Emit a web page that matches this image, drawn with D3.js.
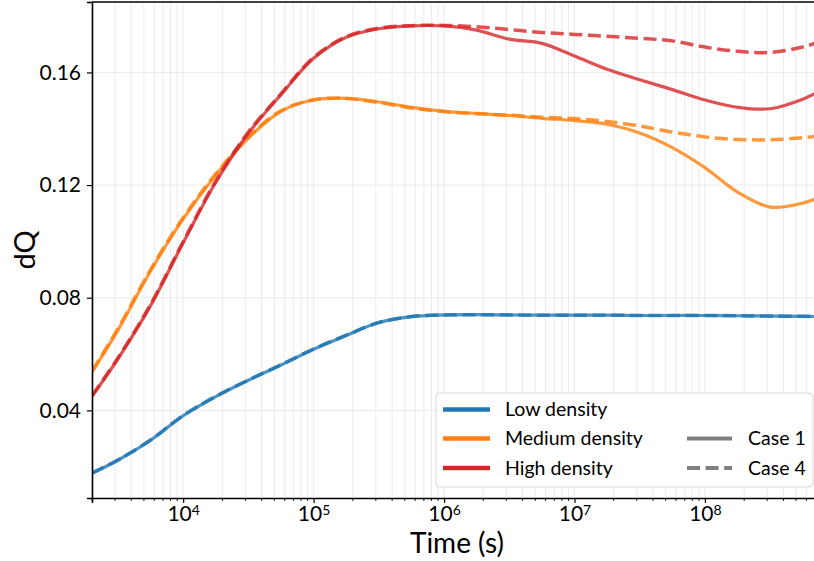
<!DOCTYPE html>
<html>
<head>
<meta charset="utf-8">
<script src="https://cdn.jsdelivr.net/npm/d3@7"></script>
<style>
  html, body { margin: 0; padding: 0; background: #fff; }
  svg { display: block; font-family: Lato, "Open Sans", sans-serif; }
</style>
</head>
<body>
<svg id="chart" width="814" height="561"></svg>
<script>
// Sampling times (s), evenly spaced in log10
const timeS = [2000, 3162, 5623, 1e4, 17783, 31623, 56234, 1e5, 177828, 316228, 562341,
  1e6, 1.778e6, 3.162e6, 5.623e6, 1e7, 1.778e7, 3.162e7, 5.623e7, 1e8, 1.778e8, 3.162e8, 5.623e8, 7.9e8];

// dQ for each density, Case 1 (solid) and Case 4 (dashed)
const lowCase1 = [0.0177, 0.0223, 0.0294, 0.0381, 0.0449, 0.0507, 0.0561, 0.0617, 0.0666, 0.0712, 0.0733,
  0.0739, 0.0740, 0.0739, 0.0738, 0.0738, 0.0738, 0.0737, 0.0737, 0.0737, 0.0736, 0.0735, 0.0734, 0.0733];
const lowCase4 = [0.0178, 0.0224, 0.0295, 0.0382, 0.0450, 0.0508, 0.0562, 0.0618, 0.0667, 0.0712, 0.0733,
  0.0739, 0.0740, 0.0739, 0.0738, 0.0738, 0.0738, 0.0737, 0.0737, 0.0737, 0.0736, 0.0735, 0.0734, 0.0733];
const medCase1 = [0.0536, 0.0685, 0.0895, 0.1080, 0.1236, 0.1367, 0.1462, 0.1502, 0.1508, 0.1495, 0.1476,
  0.1462, 0.1454, 0.1447, 0.1437, 0.1429, 0.1416, 0.1385, 0.1333, 0.1262, 0.1175, 0.1122, 0.1136, 0.1160];
const medCase4 = [0.0540, 0.0690, 0.0900, 0.1084, 0.1240, 0.1370, 0.1464, 0.1503, 0.1507, 0.1493, 0.1474,
  0.1461, 0.1454, 0.1448, 0.1441, 0.1436, 0.1426, 0.1410, 0.1388, 0.1371, 0.1362, 0.1361, 0.1368, 0.1376];
const highCase1 = [0.0450, 0.0583, 0.0772, 0.0995, 0.1210, 0.1384, 0.1521, 0.1650, 0.1725, 0.1755, 0.1765,
  0.1765, 0.1750, 0.1718, 0.1703, 0.1658, 0.1611, 0.1574, 0.1539, 0.1502, 0.1476, 0.1471, 0.1505, 0.1538];
const highCase4 = [0.0452, 0.0586, 0.0776, 0.0999, 0.1214, 0.1388, 0.1524, 0.1653, 0.1727, 0.1757, 0.1766,
  0.1767, 0.1762, 0.1752, 0.1742, 0.1735, 0.1728, 0.1721, 0.1712, 0.1690, 0.1675, 0.1671, 0.1690, 0.1712];

const densityNames = ["Low density", "Medium density", "High density"];
const densityColors = ["#1f77b4", "#ff7f0e", "#d62728"];
const caseNames = ["Case 1", "Case 4"];
const yTicks = [0.04, 0.08, 0.12, 0.16];
const xTicks = [1e4, 1e5, 1e6, 1e7, 1e8];

const series = [
  { values: lowCase1, color: densityColors[0], dashed: false },
  { values: lowCase4, color: densityColors[0], dashed: true },
  { values: medCase1, color: densityColors[1], dashed: false },
  { values: medCase4, color: densityColors[1], dashed: true },
  { values: highCase1, color: densityColors[2], dashed: false },
  { values: highCase4, color: densityColors[2], dashed: true }
];

const svg = d3.select("#chart");
const plot = { left: 92, right: 822, top: 2, bottom: 498 };

const x = d3.scaleLog().domain([2000, 7.9e8]).range([plot.left, plot.right]);
const y = d3.scaleLinear().domain([0.0089, 0.185]).range([plot.bottom, plot.top]);

// Grid: vertical lines at every log tick (major and minor), horizontal at major y ticks
const minorTicks = [];
for (let e = 3; e <= 8; e++) {
  for (let m = 1; m <= 9; m++) {
    const v = m * Math.pow(10, e);
    if (v >= 2000 && v <= 7.9e8) minorTicks.push(v);
  }
}
const grid = svg.append("g");
grid.selectAll("line.vx").data(minorTicks).join("line")
  .attr("x1", d => x(d)).attr("x2", d => x(d))
  .attr("y1", plot.top).attr("y2", plot.bottom)
  .attr("stroke", "#ebebeb").attr("stroke-width", 1);
grid.selectAll("line.hy").data(yTicks).join("line")
  .attr("x1", plot.left).attr("x2", plot.right)
  .attr("y1", d => y(d)).attr("y2", d => y(d))
  .attr("stroke", "#ebebeb").attr("stroke-width", 1);

// Curves
svg.append("clipPath").attr("id", "plotclip").append("rect")
  .attr("x", plot.left).attr("y", plot.top)
  .attr("width", plot.right - plot.left).attr("height", plot.bottom - plot.top);

const line = d3.line()
  .x((d, i) => x(timeS[i]))
  .y(d => y(d))
  .curve(d3.curveCatmullRom.alpha(0.5));

svg.append("g").attr("clip-path", "url(#plotclip)")
  .selectAll("path").data(series).join("path")
  .attr("d", d => line(d.values))
  .attr("fill", "none")
  .attr("stroke", d => d.color)
  .attr("stroke-opacity", 0.8)
  .attr("stroke-width", d => d.dashed ? 3.5 : 3.2)
  .attr("stroke-dasharray", d => d.dashed ? "13,5.6" : null)
  .attr("stroke-linecap", "butt");

// Axes
const xAxis = d3.axisBottom(x).tickValues(xTicks).tickSize(5).tickPadding(3).tickFormat(() => "");
const gx = svg.append("g").attr("transform", `translate(0,${plot.bottom})`).call(xAxis);
gx.select(".domain").attr("stroke", "#000").attr("stroke-width", 1.6);
gx.selectAll(".tick line").attr("stroke", "#000").attr("stroke-width", 1.2);
gx.selectAll(".tick text").each(function (d) {
  const t = d3.select(this).attr("font-size", 21).attr("fill", "#000").attr("font-family", "Lato, sans-serif");
  t.append("tspan").text("10");
  t.append("tspan").attr("dy", "-0.45em").attr("font-size", 14).text(Math.round(Math.log10(d)));
});
// minor x ticks
svg.append("g").selectAll("line").data(minorTicks.filter(v => !xTicks.includes(v))).join("line")
  .attr("x1", d => x(d)).attr("x2", d => x(d))
  .attr("y1", plot.bottom).attr("y2", plot.bottom + 3)
  .attr("stroke", "#000").attr("stroke-width", 0.9);

const yAxis = d3.axisLeft(y).tickValues(yTicks).tickSize(5).tickPadding(6).tickFormat(d3.format(".2f"));
const gy = svg.append("g").attr("transform", `translate(${plot.left},0)`).call(yAxis);
gy.select(".domain").attr("stroke", "#000").attr("stroke-width", 1.6);
gy.selectAll(".tick line").attr("stroke", "#000").attr("stroke-width", 1.2);
gy.selectAll(".tick text").attr("font-size", 21).attr("fill", "#000").attr("font-family", "Lato, sans-serif");

// Top spine
svg.append("line")
  .attr("x1", plot.left).attr("x2", plot.right)
  .attr("y1", plot.top).attr("y2", plot.top)
  .attr("stroke", "#000").attr("stroke-width", 1.6);

// Axis titles
svg.append("text")
  .attr("x", (plot.left + plot.right) / 2).attr("y", 553)
  .attr("text-anchor", "middle").attr("font-size", 28).text("Time (s)");
svg.append("text")
  .attr("transform", `translate(35,${(plot.top + plot.bottom) / 2}) rotate(-90)`)
  .attr("text-anchor", "middle").attr("font-size", 29).text("dQ");

// Legend
const lg = svg.append("g");
lg.append("rect")
  .attr("x", 436).attr("y", 393).attr("width", 377).attr("height", 94)
  .attr("rx", 4).attr("fill", "#fff").attr("fill-opacity", 0.9)
  .attr("stroke", "#d9d9d9").attr("stroke-width", 1);
const rowY = [409.5, 438.5, 468];
densityNames.forEach((name, i) => {
  lg.append("line").attr("x1", 443).attr("x2", 490).attr("y1", rowY[i]).attr("y2", rowY[i])
    .attr("stroke", densityColors[i]).attr("stroke-width", 4.5);
  lg.append("text").attr("x", 505).attr("y", rowY[i]).attr("dy", "0.35em")
    .attr("font-size", 19.5).text(name);
});
caseNames.forEach((name, i) => {
  lg.append("line").attr("x1", 687).attr("x2", 732).attr("y1", rowY[i + 1]).attr("y2", rowY[i + 1])
    .attr("stroke", "#808080").attr("stroke-width", 4)
    .attr("stroke-dasharray", i === 1 ? "13,5.6" : null);
  lg.append("text").attr("x", 748).attr("y", rowY[i + 1]).attr("dy", "0.35em")
    .attr("font-size", 19.5).text(name);
});
</script>
</body>
</html>
